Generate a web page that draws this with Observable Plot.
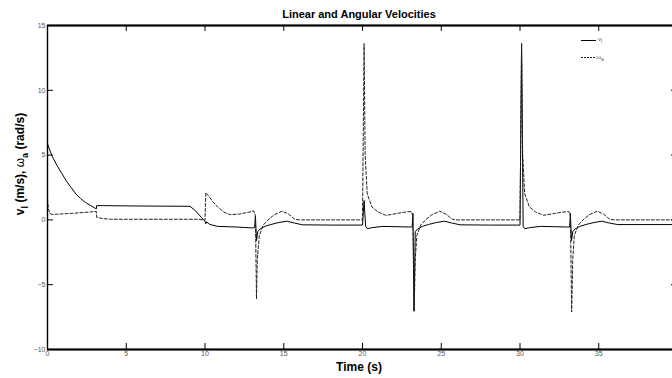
<!DOCTYPE html>
<html>
<head>
<meta charset="utf-8">
<script src="https://cdn.jsdelivr.net/npm/d3@7"></script>
<script src="https://cdn.jsdelivr.net/npm/@observablehq/plot@0.6"></script>
<style>
  html, body { margin: 0; padding: 0; background: #fff; overflow: hidden; }
  #chart { width: 672px; height: 378px; overflow: hidden; }
</style>
</head>
<body>
<div id="chart"></div>
<script>
// ---- data ----
const title = "Linear and Angular Velocities";
const xLabel = "Time (s)";
const xTicks = [0, 5, 10, 15, 20, 25, 30, 35, 40];
const xTickLabels = [0, 5, 10, 15, 20, 25, 30, 35];
const yTicks = [-10, -5, 0, 5, 10, 15];

// v_l (solid)
const tV = [0, 0.05, 0.3, 0.6, 0.9, 1.2, 1.5, 1.8, 2.1, 2.4, 2.75, 3.1, 3.12, 3.5, 6, 9.05, 9.4, 9.8, 10.0, 10.05, 10.1, 10.3, 10.8, 12, 13.0, 13.15, 13.2, 13.27, 13.35, 13.5, 13.8, 14.2, 14.7, 15.2, 15.7, 16.2, 18,
  20.0, 20.1, 20.2, 20.3, 20.6, 21.3, 23.0, 23.15, 23.2, 23.27, 23.35, 23.5, 23.8, 24.2, 24.7, 25.2, 25.7, 26.2, 28,
  30.0, 30.1, 30.2, 30.3, 30.6, 31.3, 33.0, 33.15, 33.2, 33.27, 33.35, 33.5, 33.8, 34.2, 34.7, 35.2, 35.7, 36.2, 38, 40];
const vL = [5.9, 5.7, 4.9, 4.2, 3.6, 3.0, 2.5, 2.0, 1.65, 1.35, 1.1, 0.85, 1.1, 1.1, 1.07, 1.05, 0.7, 0.15, -0.1, -0.3, -0.15, -0.35, -0.5, -0.55, -0.62, -0.6, 0.3, -1.6, -0.9, -0.7, -0.5, -0.35, -0.2, -0.1, -0.25, -0.38, -0.4,
  -0.4, 1.5, -0.5, -0.68, -0.6, -0.5, -0.55, -0.55, 0.5, -7.0, -0.9, -0.7, -0.5, -0.35, -0.2, -0.1, -0.25, -0.38, -0.4,
  -0.4, 13.6, -0.5, -0.68, -0.6, -0.5, -0.55, -0.55, 0.5, -1.6, -0.9, -0.7, -0.5, -0.35, -0.2, -0.1, -0.25, -0.36, -0.36, -0.36];

// omega_a (dashed)
const tW = [0, 0.05, 0.15, 0.3, 1.5, 3.1, 3.12, 3.5, 4.0, 9.5, 9.9, 10.0, 10.05, 10.2, 10.5, 10.8, 11.2, 11.6, 12.2, 12.8, 13.1, 13.2, 13.27, 13.32, 13.45, 13.7, 14.0, 14.4, 14.9, 15.3, 15.7, 16.0,
  20.0, 20.1, 20.17, 20.3, 20.6, 21.0, 21.5, 22.2, 22.7, 23.1, 23.2, 23.28, 23.35, 23.45, 23.7, 24.0, 24.4, 24.9, 25.3, 25.7, 26.0,
  30.0, 30.1, 30.17, 30.3, 30.6, 31.0, 31.5, 32.2, 32.7, 33.1, 33.2, 33.28, 33.35, 33.45, 33.7, 34.0, 34.4, 34.9, 35.3, 35.7, 36.0, 40];
const wA = [1.6, 0.9, 0.5, 0.42, 0.5, 0.65, 0.2, 0.1, 0.05, 0.05, 0.0, -0.05, 2.1, 1.9, 1.4, 1.0, 0.6, 0.4, 0.45, 0.6, 0.7, 0.3, -6.1, -3.0, -1.2, -0.4, 0.0, 0.4, 0.67, 0.45, 0.05, 0.0,
  0.0, 13.6, 5.0, 2.0, 1.0, 0.6, 0.35, 0.5, 0.6, 0.65, 0.3, -7.1, -3.0, -1.2, -0.4, 0.0, 0.4, 0.67, 0.45, 0.05, 0.0,
  0.0, 13.6, 5.0, 2.0, 1.0, 0.6, 0.35, 0.5, 0.6, 0.65, 0.3, -7.1, -3.0, -1.2, -0.4, 0.0, 0.4, 0.67, 0.45, 0.05, 0.0, 0.0];

const vData = tV.map((t, i) => ({t, v: vL[i]}));
const wData = tW.map((t, i) => ({t, v: wA[i]}));

const font = "'Liberation Sans', Arial, Helvetica, sans-serif";
const xMin = 0, xMax = 40, yMin = -10, yMax = 15;
const tickY = 0.46;  // inward tick length in y units (~6px)
const tickX = 0.38;  // inward tick length in x units (~6px)

const plot = Plot.plot({
  width: 672,
  height: 378,
  marginTop: 25,
  marginBottom: 29,
  marginLeft: 47,
  marginRight: -5,
  style: {fontFamily: font, fontSize: "7px", color: "#555", background: "#fff"},
  x: {domain: [xMin, xMax]},
  y: {domain: [yMin, yMax]},
  marks: [
    Plot.line(vData, {x: "t", y: "v", stroke: "#000", strokeWidth: 1}),
    Plot.line(wData, {x: "t", y: "v", stroke: "#222", strokeWidth: 1, strokeDasharray: "3,2"}),
    // inward ticks on four sides
    Plot.ruleX(xTicks, {x: d => d, y1: yMin, y2: yMin + tickY, stroke: "#000"}),
    Plot.ruleX(xTicks, {x: d => d, y1: yMax, y2: yMax - tickY, stroke: "#000"}),
    Plot.ruleY(yTicks, {y: d => d, x1: xMin, x2: xMin + tickX, stroke: "#000"}),
    Plot.ruleY(yTicks, {y: d => d, x1: xMax, x2: xMax - tickX, stroke: "#000"}),
    Plot.axisX(xTickLabels, {anchor: "bottom", tickSize: 0, tickPadding: 2, label: null}),
    Plot.axisY(yTicks, {anchor: "left", tickSize: 0, tickPadding: 2, label: null}),
    Plot.frame({stroke: "#000", strokeWidth: 1.4}),
    Plot.ruleY([yMin, yMax], {stroke: "#000", strokeWidth: 2})
  ]
});
document.getElementById("chart").appendChild(plot);

const svg = d3.select(plot);
// title
svg.append("text").attr("x", 359).attr("y", 18).attr("text-anchor", "middle")
  .attr("font-family", font).attr("font-weight", "bold").attr("font-size", 11).attr("fill", "#000")
  .text(title);
// x label
svg.append("text").attr("x", 359).attr("y", 371).attr("text-anchor", "middle")
  .attr("font-family", font).attr("font-weight", "bold").attr("font-size", 12).attr("fill", "#000")
  .text(xLabel);
// y label with subscripts
const yl = svg.append("text").attr("transform", "translate(24,164) rotate(-90)").attr("text-anchor", "middle")
  .attr("font-family", font).attr("font-weight", "bold").attr("font-size", 12).attr("fill", "#000");
yl.append("tspan").text("v");
yl.append("tspan").attr("dy", 4).attr("font-size", 9).text("l");
yl.append("tspan").attr("dy", -4).text(" (m/s), ");
yl.append("tspan").attr("font-weight", "normal").text("ω");
yl.append("tspan").attr("dy", 4).attr("font-size", 9).text("a");
yl.append("tspan").attr("dy", -4).text(" (rad/s)");

// legend
const lg = svg.append("g").attr("font-family", font).attr("font-size", 6).attr("fill", "#555");
lg.append("line").attr("x1", 581).attr("x2", 596).attr("y1", 40.5).attr("y2", 40.5).attr("stroke", "#000").attr("stroke-width", 1);
lg.append("line").attr("x1", 581).attr("x2", 596).attr("y1", 57.5).attr("y2", 57.5).attr("stroke", "#222").attr("stroke-width", 1).attr("stroke-dasharray", "2,1");
const t1 = lg.append("text").attr("x", 600).attr("y", 41);
t1.append("tspan").text("v");
t1.append("tspan").attr("dy", 2).attr("font-size", 5).text("l");
const t2 = lg.append("text").attr("x", 600).attr("y", 59);
t2.append("tspan").text("ω");
t2.append("tspan").attr("dy", 2).attr("font-size", 5).text("a");
</script>
</body>
</html>
